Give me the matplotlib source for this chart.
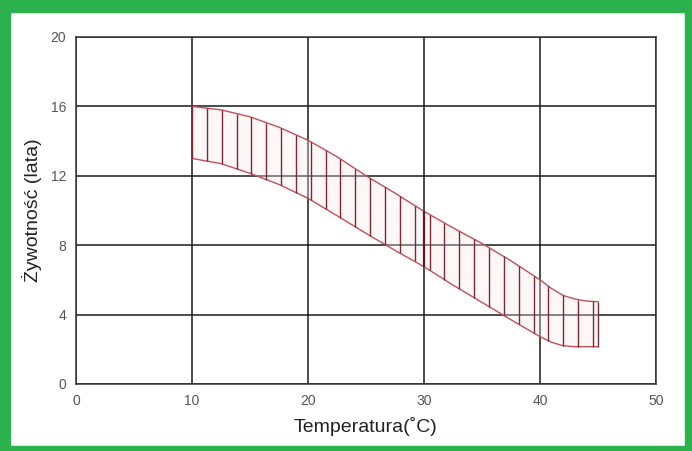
import matplotlib.pyplot as plt
import numpy as np
from matplotlib.patches import Rectangle

plt.rcParams['font.family'] = ['Liberation Sans Narrow', 'Liberation Sans', 'DejaVu Sans']

# band of service life vs temperature
temp = [10, 12.5, 15, 17.5, 20, 22.5, 25, 27.5, 30, 32.5, 35, 37.5, 40, 41, 42, 43, 44, 45]
upper = [16.0, 15.8, 15.4, 14.8, 14.05, 13.1, 12.0, 11.0, 9.95, 9.0, 8.1, 7.1, 6.0, 5.5, 5.1, 4.9, 4.78, 4.74]
lower = [13.0, 12.7, 12.14, 11.5, 10.7, 9.7, 8.68, 7.7, 6.76, 5.7, 4.7, 3.7, 2.73, 2.4, 2.2, 2.15, 2.15, 2.15]

xticks = [0, 10, 20, 30, 40, 50]
yticks = [0, 4, 8, 12, 16, 20]

fig = plt.figure(figsize=(6.92, 4.51), dpi=100)
fig.patch.set_facecolor('white')

# green frame around the picture
green = '#2bb24c'
fig.patches.append(Rectangle((0, 0.973), 1, 0.027, transform=fig.transFigure, color=green))
fig.patches.append(Rectangle((0, 0), 0.014, 1, transform=fig.transFigure, color=green))
fig.patches.append(Rectangle((0.99, 0), 0.01, 1, transform=fig.transFigure, color=green))
fig.patches.append(Rectangle((0, 0), 1, 0.011, transform=fig.transFigure, color=green))

ax = fig.add_axes([0.1098, 0.1486, 0.8382, 0.7694])
ax.set_xlim(0, 50)
ax.set_ylim(0, 20)
ax.set_xticks(xticks)
ax.set_yticks(yticks)
ax.grid(True, color='#1a1a1a', linewidth=1.1)
ax.set_axisbelow(True)
for s in ax.spines.values():
    s.set_color('#333333')
    s.set_linewidth(1.1)
ax.tick_params(length=0, labelsize=10, labelcolor='#555555', pad=7)

# outline of the band
ax.plot(temp, upper, color='#c0505a', linewidth=1.0)
ax.plot(temp, lower, color='#c0505a', linewidth=1.0)
ax.fill_between(temp, lower, upper, color='#fbe9ec', alpha=0.35, linewidth=0)

# vertical hatching
xs = list(np.arange(10, 45, 1.28)) + [45]
ax.vlines(xs, np.interp(xs, temp, lower), np.interp(xs, temp, upper),
          color='#7a2a35', linewidth=1.0)
ax.vlines([30], np.interp(30, temp, lower), np.interp(30, temp, upper),
          color='#5a1a25', linewidth=1.6)

ax.set_xlabel('Temperatura(˚C)', fontsize=14, labelpad=7, color='#222222')
ax.set_ylabel('Żywotność (lata)', fontsize=14, labelpad=6, color='#222222')

fig.savefig('out.png', dpi=100, facecolor=fig.get_facecolor())
